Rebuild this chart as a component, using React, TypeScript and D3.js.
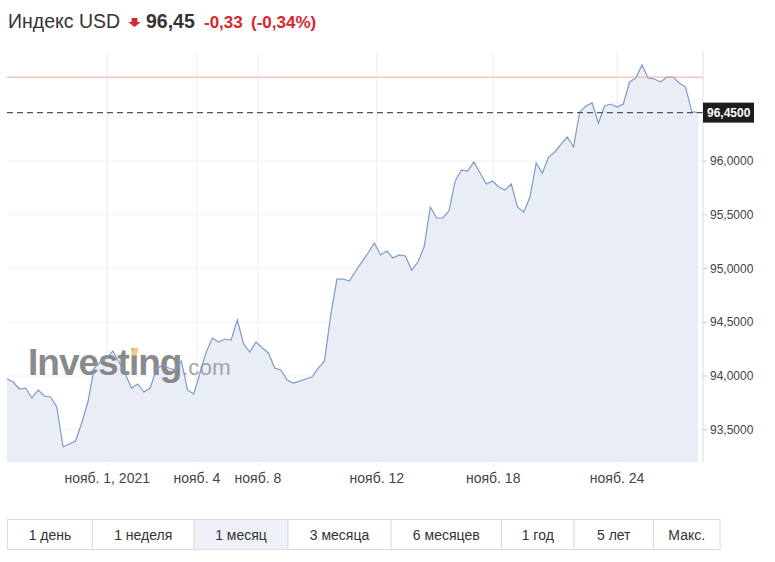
import React from "react";
import * as d3 from "d3";

const values = [
  93.972, 93.944, 93.879, 93.888, 93.795, 93.87, 93.814, 93.805, 93.712, 93.34,
  93.367, 93.395, 93.563, 93.758, 94.074, 94.13, 94.167, 94.233, 94.13, 94.019,
  93.888, 93.926, 93.851, 93.888, 94.065, 94.102, 94.074, 94.056, 94.14, 93.87,
  93.833, 94.028, 94.223, 94.353, 94.316, 94.344, 94.335, 94.521, 94.298, 94.223,
  94.316, 94.26, 94.214, 94.074, 94.056, 93.963, 93.935, 93.953, 93.972, 93.991,
  94.074, 94.14, 94.567, 94.902, 94.902, 94.884, 94.977, 95.06, 95.144, 95.237,
  95.126, 95.163, 95.098, 95.126, 95.116, 94.986, 95.06, 95.2, 95.572, 95.47,
  95.47, 95.535, 95.814, 95.916, 95.907, 95.991, 95.888, 95.786, 95.814, 95.758,
  95.73, 95.786, 95.572, 95.526, 95.665, 95.981, 95.888, 96.037, 96.084, 96.158,
  96.223, 96.13, 96.456, 96.512, 96.54, 96.353, 96.512, 96.53, 96.502, 96.53,
  96.735, 96.772, 96.893, 96.772, 96.763, 96.735, 96.781, 96.781, 96.726, 96.688,
  96.46, 96.45,
];

const yTicks = [93.5, 94, 94.5, 95, 95.5, 96];
const xTickLabels = ["нояб. 1, 2021", "нояб. 4", "нояб. 8", "нояб. 12", "нояб. 18", "нояб. 24"];
const xTickIndex = [16.1, 30.5, 40.3, 59.4, 78.1, 98.0];
const lastPrice = 96.45;
const prevClose = 96.78;
const titleName = "Индекс USD";
const priceText = "96,45";
const changeText = "-0,33";
const changePctText = "(-0,34%)";
const buttonLabels = ["1 день", "1 неделя", "1 месяц", "3 месяца", "6 месяцев", "1 год", "5 лет", "Макс."];
const activeButton = 2;

// layout (UI chrome)
const buttonEdges = [7.5, 92.5, 194, 288, 391, 501.5, 574, 653.5, 720];

export default function App() {
  const W = 775, H = 562;
  const left = 7, right = 698, axisX = 703, top = 52, bottom = 462;
  const x = d3.scaleLinear().domain([0, values.length - 1]).range([left, right]);
  const y = d3.scaleLinear().domain([93.2, 97.014]).range([bottom, top]);
  const line = d3.line<number>().x((_, i) => x(i)).y((d) => y(d));
  const area = d3.area<number>().x((_, i) => x(i)).y0(bottom).y1((d) => y(d));
  const ru = d3.formatLocale({ decimal: ",", thousands: "\u00a0", grouping: [3], currency: ["", ""] });
  const fmt = ru.format(".4f");
  const font = "'Liberation Sans', Arial, sans-serif";

  return (
    <svg width={W} height={H} style={{ position: "absolute", left: 0, top: 0, background: "#fff" }} fontFamily={font}>
      {/* header */}
      <text x={8} y={28} fontSize={19.5} fill="#333">{titleName}</text>
      <path d="M131.6,18 H137.4 V22 H140.8 L134.5,27 L128.2,22 H131.6 Z" fill="#d9262c" />
      <text x={146} y={28} fontSize={19.5} fontWeight="bold" fill="#333">{priceText}</text>
      <text x={204} y={28} fontSize={17} fontWeight="bold" fill="#d9262c">{changeText}</text>
      <text x={251} y={28} fontSize={17} fontWeight="bold" fill="#d9262c">{changePctText}</text>

      {/* grid */}
      {yTicks.map((t) => (
        <line key={"hg" + t} x1={left} x2={axisX} y1={y(t)} y2={y(t)} stroke="#f0f1f4" />
      ))}
      {xTickIndex.map((t, i) => (
        <line key={"vg" + i} x1={x(t)} x2={x(t)} y1={top} y2={bottom + 4} stroke="#eceef2" />
      ))}

      {/* area + watermark + line */}
      <path d={area(values) || ""} fill="#e9edf5" />
      <g opacity={0.88}>
        <text x={28} y={375} fontSize={37} fontWeight="bold" fill="#7a7a7a" letterSpacing={-1}>Investing</text>
        <text x={182} y={375} fontSize={22.5} fill="#9a9a9a">.com</text>
        <path d="M131,355.5 L133,348 H138.5 L136.5,355.5 Z" fill="#f3c26b" />
      </g>
      <path d={line(values) || ""} fill="none" stroke="#7d9cc9" strokeWidth={1.2} />

      {/* previous close and last price */}
      <line x1={left} x2={axisX} y1={y(prevClose)} y2={y(prevClose)} stroke="#f2aaa4" strokeWidth={1} />
      <line x1={left} x2={axisX} y1={y(lastPrice)} y2={y(lastPrice)} stroke="#555" strokeWidth={1.4} strokeDasharray="6,4" />

      {/* right axis */}
      <line x1={axisX} x2={axisX} y1={top} y2={bottom} stroke="#ddd" />
      {yTicks.map((t) => (
        <g key={"yt" + t}>
          <line x1={axisX} x2={axisX + 4} y1={y(t)} y2={y(t)} stroke="#ccc" />
          <text x={710} y={y(t) + 4} fontSize={12} fill="#444">{fmt(t)}</text>
        </g>
      ))}
      <rect x={axisX} y={y(lastPrice) - 10} width={51} height={20} fill="#1e1e1e" />
      <text x={707} y={y(lastPrice) + 4.5} fontSize={12} fontWeight="bold" fill="#fff">{fmt(lastPrice)}</text>

      {/* x axis labels */}
      {xTickIndex.map((t, i) => (
        <text key={"xl" + i} x={x(t)} y={483} fontSize={14} fill="#444" textAnchor="middle">{xTickLabels[i]}</text>
      ))}

      {/* buttons */}
      {buttonLabels.map((b, i) => {
        const x0 = buttonEdges[i], x1 = buttonEdges[i + 1];
        return (
          <g key={"b" + i}>
            <rect x={x0} y={519.5} width={x1 - x0} height={30} fill={i === activeButton ? "#eef2f8" : "#fff"} stroke="#dcdcdc" />
            <text x={(x0 + x1) / 2} y={539.5} fontSize={14} fill="#333" textAnchor="middle">{b}</text>
          </g>
        );
      })}
    </svg>
  );
}
